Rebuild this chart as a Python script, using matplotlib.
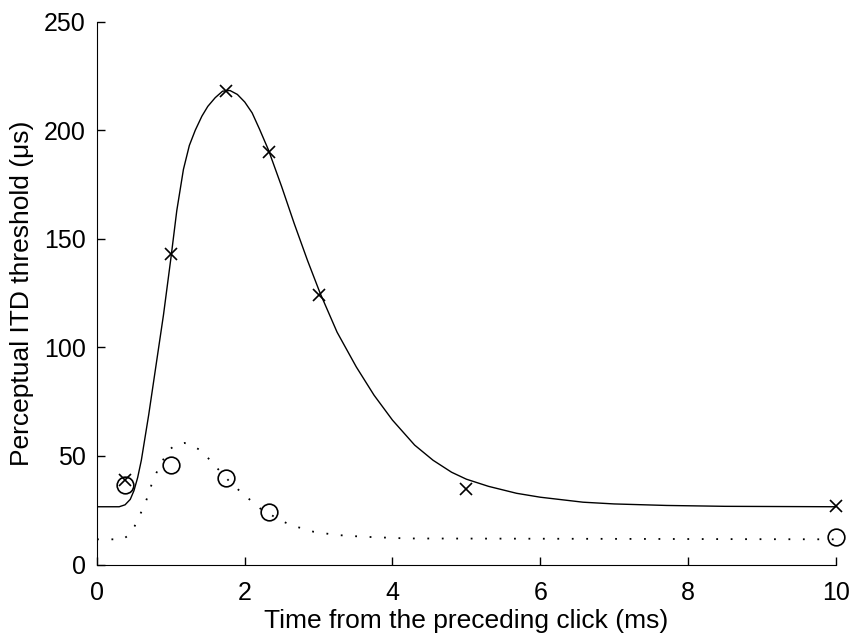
import matplotlib
matplotlib.use("Agg")
import matplotlib.pyplot as plt

plt.rcParams['font.family'] = ['Liberation Sans', 'DejaVu Sans']

# measured thresholds
x_pts = [0.375, 1.0, 1.75, 2.33, 3.0, 5.0, 10.0]
y_cross = [39, 143, 218, 190, 124, 35, 27]
x_circ = [0.375, 1.0, 1.75, 2.33, 10.0]
y_circ = [36.5, 46, 40, 24, 12.5]

# fitted curves
fit_x = [0, 0.3, 0.38, 0.45, 0.5, 0.55, 0.6, 0.7, 0.8, 0.9, 1.0, 1.08,
         1.17, 1.25, 1.33, 1.42, 1.5, 1.6, 1.7, 1.8, 1.9, 2.0, 2.1, 2.2,
         2.32, 2.5, 2.67, 2.85, 3.02, 3.25, 3.51, 3.75, 4.0, 4.3, 4.55, 4.8,
         5.0, 5.3, 5.68, 6.0, 6.58, 7.0, 7.71, 8.5, 10.0]
fit_y = [26.6, 26.6, 27.5, 30, 34, 40, 48, 69, 92, 115, 141, 163,
         182, 193, 200, 206.5, 211, 215, 218, 218.3, 216.5, 213, 208, 200.5,
         191, 174, 157, 140, 125, 107, 91, 78, 66.5, 55, 48, 42.5,
         39.3, 36, 32.8, 31, 28.7, 27.9, 27.2, 26.8, 26.6]
dot_x = [0, 0.35, 0.415, 0.51, 0.58, 0.65, 0.75, 0.82, 0.9, 0.97, 1.04, 1.10,
         1.18, 1.26, 1.33, 1.40, 1.51, 1.65, 1.8, 1.96, 2.21, 2.48, 2.63, 2.93,
         3.24, 3.6, 4.2, 10.0]
dot_y = [11.6, 11.6, 13.2, 17.7, 22.8, 27.8, 38, 43.4, 48.5, 52.6, 54.5, 55.6,
         56, 55.3, 54, 52.6, 48.8, 43.5, 38, 33, 25.8, 20.4, 18.1, 15.1,
         13.6, 12.8, 12, 11.6]

fig = plt.figure(figsize=(8.51, 6.34), dpi=100)
ax = fig.add_axes([0.114, 0.1096, 0.868, 0.8562])

ax.plot(fit_x, fit_y, color='black', lw=1.0)
ax.plot(dot_x, dot_y, color='black', lw=1.3, linestyle=(0, (1, 7)))
ax.plot(x_pts, y_cross, 'x', color='black', ms=9, mew=1.2, clip_on=False)
ax.plot(x_circ, y_circ, 'o', mfc='none', mec='black', ms=12, mew=1.2,
        clip_on=False)

ax.set_xlim(0, 10)
ax.set_ylim(0, 250)
ax.set_xticks([0, 2, 4, 6, 8, 10])
ax.set_yticks([0, 50, 100, 150, 200, 250])
ax.spines['top'].set_visible(False)
ax.spines['right'].set_visible(False)
ax.tick_params(direction='in', length=6, width=1, labelsize=18)
ax.tick_params(axis='x', pad=12)
ax.tick_params(axis='y', pad=8)
ax.set_xlabel('Time from the preceding click (ms)', fontsize=19, labelpad=3)
ax.set_ylabel('Perceptual ITD threshold (\u03bcs)', fontsize=19, labelpad=7)

fig.savefig('out.png', dpi=100)
